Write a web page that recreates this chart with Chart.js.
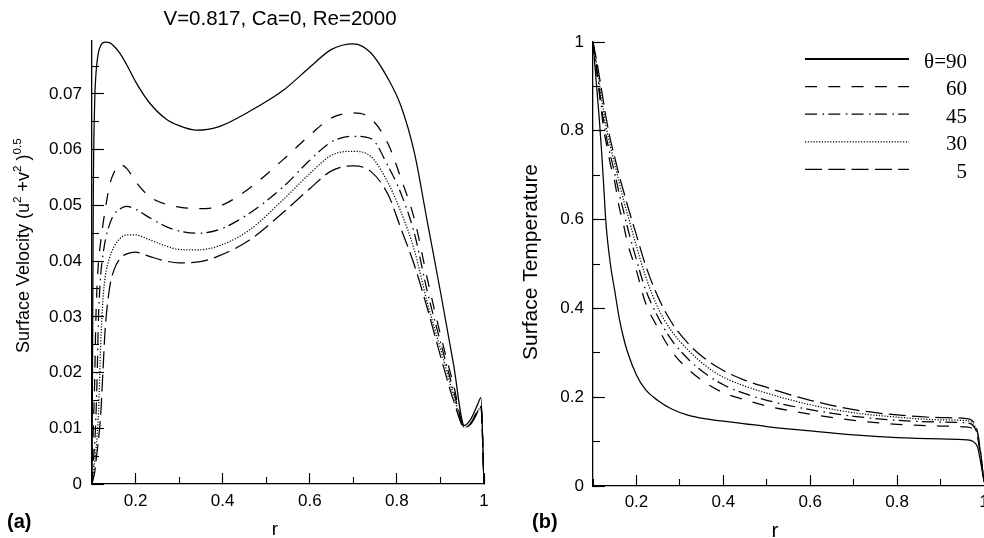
<!DOCTYPE html>
<html>
<head>
<meta charset="utf-8">
<script src="https://cdn.jsdelivr.net/npm/chart.js@4.4.1/dist/chart.umd.min.js"></script>
<style>
  html, body { margin: 0; padding: 0; background: #fff; overflow: hidden; }
  #wrap { position: relative; width: 984px; height: 538px; }
  canvas { position: absolute; top: 0; }
  #velocity { left: 0; }
  #temperature { left: 492px; }
</style>
</head>
<body>
<div id="wrap">
  <canvas id="velocity" width="492" height="538"></canvas>
  <canvas id="temperature" width="492" height="538"></canvas>
</div>
<script>
// contact angle series, same order in both panels
const angleLabels = ["θ=90", "60", "45", "30", "5"];

// (a) surface velocity along r
const rVel = [0.1, 0.103, 0.106, 0.109, 0.112, 0.115, 0.12, 0.125, 0.13, 0.14, 0.15, 0.165,
  0.18, 0.2, 0.23, 0.27, 0.3, 0.34, 0.39, 0.46, 0.54, 0.6, 0.65, 0.7, 0.74, 0.78, 0.81,
  0.84, 0.87, 0.9, 0.93, 0.955, 0.97, 0.985, 0.993, 1.0];
const vel90 = [0, 0.052, 0.068, 0.0735, 0.076, 0.0775, 0.0787, 0.0792, 0.0793, 0.0792, 0.0786, 0.0772,
  0.0752, 0.0722, 0.0686, 0.0655, 0.0643, 0.0635, 0.0641, 0.0668, 0.0707, 0.0748, 0.078, 0.079, 0.0774, 0.0727, 0.0677,
  0.0595, 0.047, 0.0345, 0.0215, 0.0105, 0.0117, 0.0142, 0.0155, 0];
const vel60 = [0, 0.01, 0.018, 0.03, 0.036, 0.04, 0.0435, 0.0465, 0.049, 0.0535, 0.0558, 0.0573,
  0.0566, 0.0543, 0.0517, 0.0502, 0.0497, 0.0494, 0.0498, 0.053, 0.0583, 0.0626, 0.0657, 0.0666, 0.0656, 0.061, 0.0547,
  0.0476, 0.0368, 0.0268, 0.0178, 0.0103, 0.011, 0.0132, 0.0142, 0];
const vel45 = [0, 0.004, 0.007, 0.012, 0.02, 0.03, 0.0375, 0.041, 0.0435, 0.0465, 0.0483, 0.0494,
  0.0498, 0.0493, 0.0479, 0.0462, 0.0454, 0.045, 0.0456, 0.0485, 0.0534, 0.0581, 0.0614, 0.0624, 0.062, 0.057, 0.052,
  0.045, 0.0345, 0.0255, 0.0168, 0.0103, 0.0109, 0.013, 0.014, 0];
const vel30 = [0, 0.002, 0.004, 0.006, 0.009, 0.013, 0.025, 0.033, 0.037, 0.0405, 0.0425, 0.0441,
  0.0447, 0.0447, 0.0439, 0.0427, 0.0421, 0.042, 0.0427, 0.0455, 0.0511, 0.0557, 0.059, 0.0597, 0.0588, 0.054, 0.0487,
  0.042, 0.0325, 0.0243, 0.016, 0.0102, 0.0108, 0.0129, 0.0139, 0];
const vel5 = [0, 0.001, 0.002, 0.004, 0.006, 0.008, 0.0125, 0.02, 0.0275, 0.035, 0.0383, 0.0405,
  0.0413, 0.0416, 0.0409, 0.04, 0.0397, 0.0398, 0.0409, 0.0437, 0.0488, 0.053, 0.0562, 0.0571, 0.0561, 0.0519, 0.0457,
  0.0393, 0.0315, 0.023, 0.015, 0.0102, 0.0108, 0.0128, 0.0138, 0];

// (b) surface temperature along r
const rTemp = [0.1, 0.105, 0.11, 0.115, 0.12, 0.125, 0.13, 0.14, 0.15, 0.16, 0.17, 0.18, 0.2, 0.22,
  0.25, 0.28, 0.32, 0.36, 0.4, 0.45, 0.5, 0.6, 0.7, 0.8, 0.9, 0.96, 0.975, 0.985, 0.993, 1.0];
const temp90 = [1, 0.94, 0.88, 0.82, 0.75, 0.67, 0.59, 0.5, 0.44, 0.38, 0.335, 0.3, 0.25, 0.218,
  0.192, 0.174, 0.159, 0.151, 0.146, 0.14, 0.134, 0.124, 0.115, 0.109, 0.106, 0.104, 0.1, 0.088, 0.05, 0.01];
const temp60 = [1, 0.96, 0.92, 0.88, 0.84, 0.8, 0.775, 0.725, 0.685, 0.63, 0.59, 0.545, 0.485, 0.415,
  0.355, 0.305, 0.262, 0.232, 0.21, 0.194, 0.18, 0.162, 0.148, 0.139, 0.135, 0.133, 0.128, 0.11, 0.06, 0.01];
const temp45 = [1, 0.965, 0.93, 0.89, 0.85, 0.82, 0.79, 0.745, 0.705, 0.66, 0.62, 0.58, 0.51, 0.445,
  0.38, 0.33, 0.285, 0.252, 0.228, 0.208, 0.193, 0.172, 0.157, 0.148, 0.144, 0.142, 0.136, 0.115, 0.065, 0.01];
const temp30 = [1, 0.97, 0.94, 0.905, 0.87, 0.84, 0.81, 0.765, 0.725, 0.685, 0.645, 0.61, 0.54, 0.475,
  0.4, 0.35, 0.305, 0.27, 0.245, 0.225, 0.209, 0.183, 0.165, 0.155, 0.149, 0.147, 0.14, 0.118, 0.068, 0.01];
const temp5 = [1, 0.975, 0.95, 0.92, 0.89, 0.86, 0.83, 0.78, 0.74, 0.7, 0.665, 0.63, 0.565, 0.5,
  0.425, 0.37, 0.32, 0.285, 0.26, 0.238, 0.222, 0.193, 0.172, 0.16, 0.154, 0.152, 0.145, 0.122, 0.07, 0.01];

// line patterns: solid, dashed, dash-dot, dotted, long dash
const lineDashes = [[], [12, 11.3], [12, 5.5, 1.6, 4.2], [1.2, 1.6], [17, 6.3]];

Chart.defaults.font.family = '"Liberation Sans", Arial, sans-serif';
Chart.defaults.color = "#000";

const series = (xs, ys, i) => ({
  label: angleLabels[i],
  data: xs.map((x, k) => ({ x, y: ys[k] })),
  borderColor: "#000",
  borderWidth: 1.25,
  borderDash: lineDashes[i],
  pointRadius: 0,
  fill: false,
  cubicInterpolationMode: "monotone",
});

const noPad = (s) => { s.paddingLeft = s.paddingRight = s.paddingTop = s.paddingBottom = 0; };

// tick text without trailing zeros: 1, 0.2, 0.07
const shortNum = (v) => String(+Number(v).toFixed(4));

function majorAxis(position, min, max, step, size, pad, tick) {
  return {
    type: "linear", position, min, max, weight: 0,
    ticks: { stepSize: step, includeBounds: false, autoSkip: false, maxRotation: 0,
      padding: pad, color: "#000", font: { size: 17 }, callback: shortNum },
    grid: { drawOnChartArea: false, drawTicks: true, tickLength: -tick, tickColor: "#000", tickWidth: 1.1 },
    border: { color: "#000", width: 1.3 },
    afterFit: (s) => { if (position === "left") s.width = size; else s.height = size; noPad(s); },
  };
}

// shorter inward ticks between the labelled ones
function minorAxis(position, min, max, step) {
  return {
    type: "linear", position, min, max, weight: -1,
    ticks: { stepSize: step, display: false, autoSkip: false, includeBounds: false },
    grid: { drawOnChartArea: false, drawTicks: true, tickLength: -7, tickColor: "#000", tickWidth: 1.1 },
    border: { display: false },
    afterFit: (s) => { if (position === "left") s.width = 0; else s.height = 0; noPad(s); },
  };
}

// text runs with raised parts, optionally rotated
function drawRun(ctx, parts, x, y, angle, size, align) {
  ctx.save();
  ctx.translate(x, y);
  ctx.rotate(angle);
  ctx.textBaseline = "alphabetic";
  ctx.textAlign = "left";
  const fontFor = (p) => `${p.bold ? "bold " : ""}${p.sup ? size * 0.65 : size}px "Liberation Sans"`;
  let total = 0;
  parts.forEach((p) => { ctx.font = fontFor(p); total += ctx.measureText(p.text).width; });
  let cx = align === "center" ? -total / 2 : 0;
  parts.forEach((p) => {
    ctx.font = fontFor(p);
    ctx.fillStyle = "#000";
    ctx.fillText(p.text, cx, p.sup ? -size * 0.42 : 0);
    cx += ctx.measureText(p.text).width;
  });
  ctx.restore();
}

const velocityText = {
  id: "velocityText",
  afterDraw(chart) {
    const ctx = chart.ctx;
    drawRun(ctx, [{ text: "V=0.817, Ca=0, Re=2000" }], 280, 25, 0, 20.5, "center");
    drawRun(ctx, [{ text: "Surface Velocity (u" }, { text: "2", sup: true }, { text: " +v" },
      { text: "2", sup: true }, { text: " )" }, { text: "0.5", sup: true }], 29, 353, -Math.PI / 2, 18);
    drawRun(ctx, [{ text: "r" }], 275, 535, 0, 19, "center");
    drawRun(ctx, [{ text: "(a)", bold: true }], 7, 528, 0, 20);
  },
};

const temperatureText = {
  id: "temperatureText",
  afterDraw(chart) {
    const ctx = chart.ctx;
    drawRun(ctx, [{ text: "Surface Temperature" }], 45, 262, -Math.PI / 2, 21, "center");
    drawRun(ctx, [{ text: "r" }], 283, 537, 0, 21, "center");
    drawRun(ctx, [{ text: "(b)", bold: true }], 40, 528, 0, 20);

    // key: line sample then right-aligned angle
    chart.data.datasets.forEach((ds, i) => {
      const y = 59 + i * 27.6;
      ctx.save();
      ctx.strokeStyle = ds.borderColor;
      ctx.lineWidth = i === 0 ? 1.8 : ds.borderWidth;
      ctx.setLineDash(ds.borderDash);
      ctx.beginPath();
      ctx.moveTo(313, y);
      ctx.lineTo(417, y);
      ctx.stroke();
      ctx.setLineDash([]);
      ctx.font = '21px "Liberation Serif"';
      ctx.textAlign = "right";
      ctx.textBaseline = "alphabetic";
      ctx.fillStyle = "#000";
      ctx.fillText(ds.label, 475, y + 8.5);
      ctx.restore();
    });
  },
};

new Chart(document.getElementById("velocity"), {
  type: "line",
  data: {
    datasets: [vel90, vel60, vel45, vel30, vel5].map((ys, i) => series(rVel, ys, i)),
  },
  options: {
    responsive: false,
    animation: false,
    layout: { padding: { top: 41, right: 8, bottom: 0, left: 0 } },
    plugins: { legend: { display: false }, tooltip: { enabled: false } },
    scales: {
      x: majorAxis("bottom", 0.1, 1, 0.2, 54, 18, 11),
      y: majorAxis("left", 0, 0.0795, 0.01, 92, 22, 12),
      xMinor: minorAxis("bottom", 0.1, 1, 0.1),
      yMinor: minorAxis("left", 0, 0.0795, 0.005),
    },
  },
  plugins: [velocityText],
});

new Chart(document.getElementById("temperature"), {
  type: "line",
  data: {
    datasets: [temp90, temp60, temp45, temp30, temp5].map((ys, i) => series(rTemp, ys, i)),
  },
  options: {
    responsive: false,
    animation: false,
    layout: { padding: { top: 42, right: 0, bottom: 0, left: 0 } },
    plugins: { legend: { display: false }, tooltip: { enabled: false } },
    scales: {
      x: majorAxis("bottom", 0.1, 1, 0.2, 52, 17, 11),
      y: majorAxis("left", 0, 1, 0.2, 101, 21, 12),
      xMinor: minorAxis("bottom", 0.1, 1, 0.1),
      yMinor: minorAxis("left", 0, 1, 0.1),
    },
  },
  plugins: [temperatureText],
});
</script>
</body>
</html>
